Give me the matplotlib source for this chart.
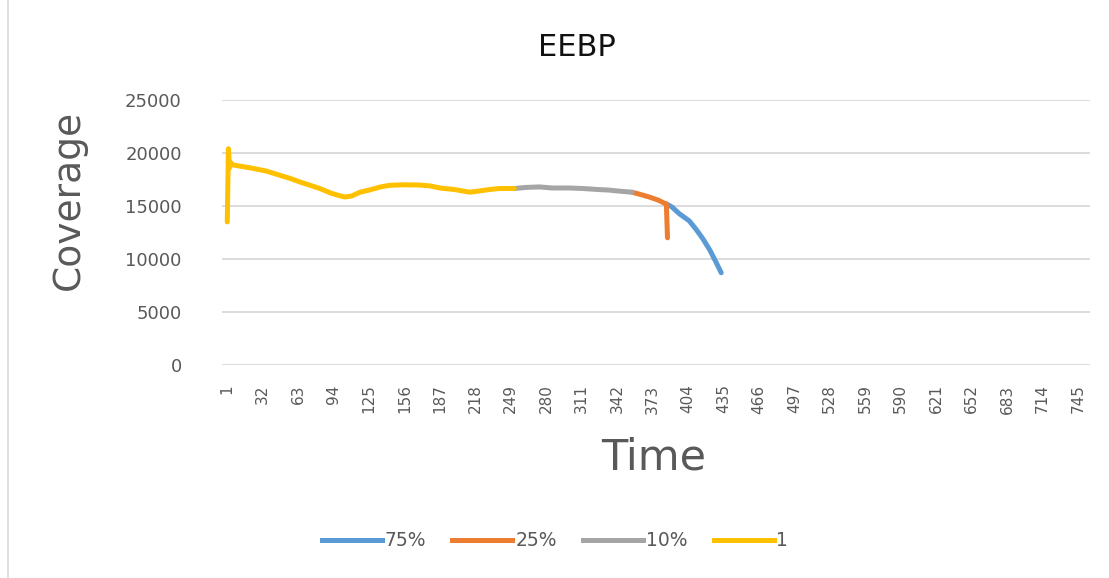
import matplotlib
matplotlib.use("Agg")
import matplotlib.pyplot as plt
from matplotlib.lines import Line2D

# ---- data ----
series_names = ["75%", "25%", "10%", "1"]

t_1 = [1, 2, 3, 4, 5, 10, 21, 35, 47, 56, 65, 75, 82, 92, 100, 104, 110, 117,
       125, 135, 143, 155, 169, 178, 187, 200, 213, 220, 230, 239, 252]
v_1 = [13500, 20400, 18600, 19100, 18900, 18800, 18600, 18300, 17900, 17600,
       17250, 16900, 16650, 16200, 15950, 15850, 15950, 16300, 16500, 16800,
       16950, 17000, 16980, 16900, 16700, 16550, 16300, 16400, 16550, 16650, 16650]

t_10 = [252, 262, 274, 285, 300, 312, 326, 335, 344, 355]
v_10 = [16650, 16750, 16800, 16700, 16700, 16650, 16550, 16500, 16400, 16300]

t_25 = [355, 362, 370, 378, 383, 385, 386]
v_25 = [16300, 16100, 15850, 15550, 15280, 15200, 12000]

t_75 = [385, 390, 396, 405, 411, 417, 423, 428, 433]
v_75 = [15200, 14900, 14300, 13600, 12800, 11900, 10850, 9800, 8700]

x_tick_labels = [str(v) for v in range(1, 746, 31)]
y_ticks = [0, 5000, 10000, 15000, 20000, 25000]

colors = {"75%": "#5B9BD5", "25%": "#ED7D31", "10%": "#A5A5A5", "1": "#FFC000"}

# ---- figure ----
W, H = 1109, 578
fig = plt.figure(figsize=(W / 100, H / 100), dpi=100)
ax = fig.add_axes([222 / W, 1 - 365 / H, 868 / W, 265 / H])

lw = 3.6
ax.plot(t_75, v_75, color=colors["75%"], lw=lw, solid_capstyle="round", zorder=3)
ax.plot(t_25, v_25, color=colors["25%"], lw=lw, solid_capstyle="round", zorder=4)
ax.plot(t_10, v_10, color=colors["10%"], lw=lw, solid_capstyle="round", zorder=5)
ax.plot(t_1, v_1, color=colors["1"], lw=lw, solid_capstyle="round", zorder=6)

ax.set_ylim(0, 25000)
ax.set_yticks(y_ticks)
ax.set_yticklabels([str(v) for v in y_ticks])
ax.set_xlim(-3.6, 755.5)
ax.set_xticks([int(s) for s in x_tick_labels])
ax.set_xticklabels(x_tick_labels, rotation=90, va="top", ha="center")

ax.grid(axis="y", color="#D9D9D9", lw=1.3)
ax.set_axisbelow(True)
for s in ax.spines.values():
    s.set_visible(False)
ax.tick_params(axis="both", length=0, colors="#595959")
ax.tick_params(axis="y", labelsize=13, pad=29)
ax.tick_params(axis="x", labelsize=11, pad=14)

ax.set_ylabel("Coverage", fontsize=27, color="#595959")
ax.yaxis.set_label_coords((87 - 222) / 868, (365 - 200) / 265)

fig.text(654 / W, 1 - 458 / H, "Time", fontsize=31, color="#595959",
         ha="center", va="center")
fig.text(577 / W, 1 - 48 / H, "EEBP", fontsize=22, color="#111111",
         ha="center", va="center")

handles = [Line2D([], [], color=colors[n], lw=3.6) for n in series_names]
leg = fig.legend(handles, series_names, loc="center", ncol=4,
                 bbox_to_anchor=(555 / W, 1 - 541 / H), frameon=False,
                 fontsize=13.5, handlelength=3.2, handletextpad=0.15,
                 columnspacing=1.4)
for txt in leg.get_texts():
    txt.set_color("#595959")

# chart frame edge at the left
fig.add_artist(Line2D([8 / W, 8 / W], [0, 1], transform=fig.transFigure,
                      color="#D9D9D9", lw=1.2))

fig.savefig("out.png", dpi=100)
